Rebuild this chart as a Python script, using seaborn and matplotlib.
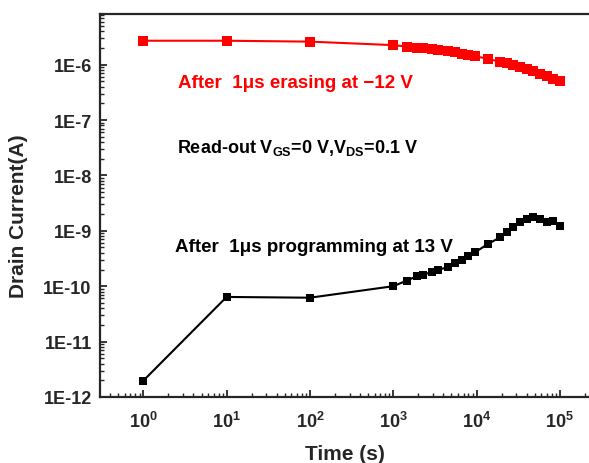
import numpy as np
import pandas as pd
import matplotlib
matplotlib.use("Agg")
import matplotlib.pyplot as plt
import seaborn as sns

# time points (s)
time_s = [1, 10, 100, 1000, 1450, 1915, 2280, 2900, 3450, 4550, 5520, 6640,
          7900, 9600, 13740, 19100, 23060, 27660, 33270, 40060, 48060, 57850,
          69600, 83560, 100000]

# after erasing (red)
erase_A = [2.7e-6, 2.7e-6, 2.6e-6, 2.25e-6, 2.12e-6, 2.02e-6, 1.97e-6, 1.9e-6,
           1.84e-6, 1.74e-6, 1.66e-6, 1.58e-6, 1.5e-6, 1.42e-6, 1.27e-6,
           1.13e-6, 1.05e-6, 9.8e-7, 9.1e-7, 8.4e-7, 7.6e-7, 6.9e-7, 6.2e-7,
           5.6e-7, 5.0e-7]

# after programming (black)
prog_A = [1.97e-12, 6.4e-11, 6.2e-11, 1.0e-10, 1.26e-10, 1.51e-10, 1.59e-10,
          1.83e-10, 1.99e-10, 2.19e-10, 2.62e-10, 3.0e-10, 3.47e-10, 4.1e-10,
          5.8e-10, 7.6e-10, 9.6e-10, 1.16e-9, 1.42e-9, 1.63e-9, 1.8e-9,
          1.63e-9, 1.46e-9, 1.52e-9, 1.24e-9]

xticks = [1, 10, 100, 1000, 10000, 100000]
xtick_labels = [r"$\mathbf{10^{0}}$", r"$\mathbf{10^{1}}$", r"$\mathbf{10^{2}}$",
                r"$\mathbf{10^{3}}$", r"$\mathbf{10^{4}}$", r"$\mathbf{10^{5}}$"]
yticks = [1e-12, 1e-11, 1e-10, 1e-9, 1e-8, 1e-7, 1e-6]
ytick_labels = ["1E-12", "1E-11", "1E-10", "1E-9", "1E-8", "1E-7", "1E-6"]

sns.set_style("ticks")
plt.rcParams["font.family"] = ["Liberation Sans", "DejaVu Sans"]
plt.rcParams["font.weight"] = "bold"
plt.rcParams["mathtext.fontset"] = "custom"
plt.rcParams["mathtext.rm"] = "Liberation Sans:bold"
plt.rcParams["mathtext.bf"] = "Liberation Sans:bold"

df = pd.DataFrame({"time": time_s, "erase": erase_A, "prog": prog_A})

W, H = 589, 464
fig = plt.figure(figsize=(5.89, 4.64), dpi=100)
ax = fig.add_axes([100 / W, 1 - 398 / H, 501.5 / W, 383 / H])

sns.lineplot(data=df, x="time", y="erase", ax=ax, color="#ff0000", marker="s",
             markersize=7.5, markeredgewidth=0, linewidth=1.5)
sns.lineplot(data=df, x="time", y="prog", ax=ax, color="black", marker="s",
             markersize=6, markeredgewidth=0, linewidth=1.5)

ax.set_xscale("log")
ax.set_yscale("log")
ax.set_xlim(10 ** -0.52, 10 ** 5.5)
ax.set_ylim(1e-12, 8.2e-6)

ax.set_xticks(xticks)
ax.set_xticklabels(xtick_labels, fontsize=13)
ax.set_yticks(yticks)
ax.set_yticklabels(ytick_labels, fontsize=13, fontweight="bold")
ax.xaxis.set_minor_locator(matplotlib.ticker.LogLocator(base=10, subs=np.arange(2, 10), numticks=20))
ax.yaxis.set_minor_locator(matplotlib.ticker.LogLocator(base=10, subs=np.arange(2, 10), numticks=20))
ax.xaxis.set_minor_formatter(matplotlib.ticker.NullFormatter())
ax.yaxis.set_minor_formatter(matplotlib.ticker.NullFormatter())
ax.tick_params(which="major", direction="in", length=5, width=1.3)
ax.tick_params(axis="x", which="major", pad=10)
ax.tick_params(axis="y", which="major", pad=6)
ax.tick_params(which="minor", direction="in", length=3, width=1)

for s in ax.spines.values():
    s.set_linewidth(1.6)
ax.spines["right"].set_visible(False)

ax.set_xlabel("Time (s)", fontsize=15, fontweight="bold")
ax.set_ylabel("Drain Current(A)", fontsize=15, fontweight="bold")
ax.xaxis.set_label_coords((344.5 - 100) / 501.5, (398 - 445) / 383)
ax.yaxis.set_label_coords((28 - 100) / 501.5, (398 - 216) / 383)

fig.text(178 / W, 1 - 88 / H, "After  1\u03bcs erasing at \u221212 V",
         color="#ff0000", fontsize=13.5, fontweight="bold", va="baseline")
fig.text(177 / W, 1 - 153 / H, r"Read-out V$_{\mathbf{GS}}$=0 V,V$_{\mathbf{DS}}$=0.1 V",
         color="black", fontsize=13, fontweight="bold", va="baseline")
fig.text(175 / W, 1 - 252 / H, "After  1\u03bcs programming at 13 V",
         color="black", fontsize=13.5, fontweight="bold", va="baseline")

fig.savefig("out.png", dpi=100)
